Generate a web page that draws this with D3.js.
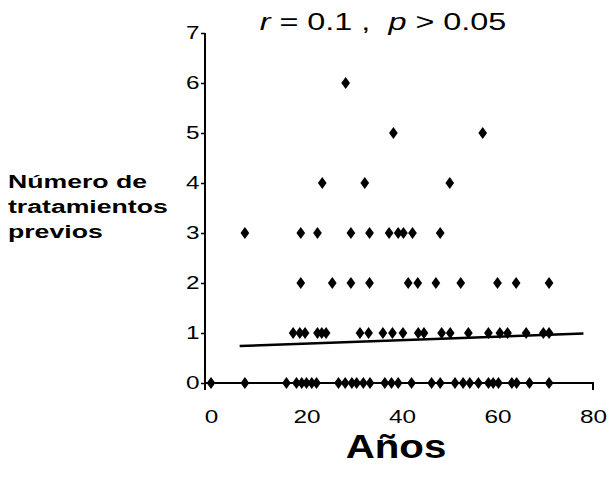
<!DOCTYPE html>
<html>
<head>
<meta charset="utf-8">
<script src="https://cdn.jsdelivr.net/npm/d3@7"></script>
<style>
  body { margin: 0; background: #fff; }
  text { font-family: "Liberation Sans", Arial, sans-serif; fill: #000; }
</style>
</head>
<body>
<svg id="chart" width="611" height="479"></svg>
<script>
// ages (years), one list per number of previous treatments
const ages0 = [0, 7.1, 15.8, 17.9, 19.0, 20.0, 21.1, 22.1, 26.7, 28.1, 29.5, 30.5, 31.9, 33.3,
  36.4, 37.8, 39.2, 42.0, 46.2, 48.0, 51.1, 52.8, 54.2, 56.0, 58.1, 59.1, 60.2, 63.0, 64.0, 66.7, 70.8];
const ages1 = [17.2, 18.6, 19.7, 22.3, 23.2, 24.1, 31.2, 33.0, 36.0, 38.0, 40.2, 43.4, 44.6,
  48.3, 50.1, 53.9, 58.1, 60.5, 62.1, 66.0, 69.6, 70.8];
const ages2 = [18.8, 25.4, 29.3, 33.2, 41.3, 43.3, 47.1, 52.3, 60.0, 63.9, 70.8];
const ages3 = [7.1, 18.8, 22.3, 29.3, 33.2, 37.3, 39.2, 40.3, 42.2, 48.0];
const ages4 = [23.3, 32.2, 50.0];
const ages5 = [38.2, 56.9];
const ages6 = [28.2];
const agesByCount = [ages0, ages1, ages2, ages3, ages4, ages5, ages6];

// regression line end points
const fitX = [6, 78];
const fitY = [0.74, 0.99];

const xTicks = [0, 20, 40, 60, 80];
const yTicks = [0, 1, 2, 3, 4, 5, 6, 7];

const titleParts = [["r", true], [" = 0.1 ,  ", false], ["p", true], [" > 0.05", false]];
const yLabelLines = ["Número de", "tratamientos", "previos"];
const xLabel = "Años";

// the scanned figure is stretched sideways
const stretch = 1.35;

const svg = d3.select("#chart");

const x = d3.scaleLinear().domain([0, 80]).range([211, 593]);
const y = d3.scaleLinear().domain([0, 7]).range([383, 33]);
const axisX = 205;

var data = [];
agesByCount.forEach(function (ages, count) {
  ages.forEach(function (a) {
    data.push({ age: a, count: count });
  });
});

// x axis
const gx = svg.append("g")
  .attr("transform", "translate(0," + y(0) + ")")
  .call(d3.axisBottom(x).tickValues(xTicks).tickFormat(d3.format("d"))
    .tickSizeInner(0).tickSizeOuter(7).tickPadding(27));
gx.select(".domain")
  .attr("d", "M" + axisX + ",0H" + x(80) + "V7")
  .attr("stroke-width", 2);
gx.selectAll(".tick text")
  .attr("font-size", 18)
  .attr("transform", "scale(" + stretch + ",1)");

// y axis
const gy = svg.append("g")
  .attr("transform", "translate(" + axisX + ",0)")
  .call(d3.axisLeft(y).tickValues(yTicks).tickFormat(d3.format("d"))
    .tickSize(4).tickSizeOuter(0).tickPadding(0));
gy.select(".domain")
  .attr("d", "M0," + y(7) + "V" + (y(0) + 7))
  .attr("stroke-width", 2);
gy.selectAll(".tick line").attr("stroke-width", 1.5);
gy.selectAll(".tick text")
  .attr("font-size", 18)
  .attr("transform", "scale(" + stretch + ",1)");

// fit line
const line = d3.line()
  .x(function (d) { return x(d[0]); })
  .y(function (d) { return y(d[1]); });
svg.append("path")
  .datum(d3.zip(fitX, fitY))
  .attr("d", line)
  .attr("fill", "none")
  .attr("stroke", "#000")
  .attr("stroke-width", 2.5);

// diamonds
const diamond = d3.symbol().type(d3.symbolDiamond).size(42);
svg.selectAll(".dot")
  .data(data)
  .enter()
  .append("path")
  .attr("class", "dot")
  .attr("d", diamond)
  .attr("transform", function (d) {
    return "translate(" + x(d.age) + "," + y(d.count) + ") scale(1.25,1)";
  })
  .attr("fill", "#000");

// title
const title = svg.append("text")
  .attr("transform", "translate(383,30) scale(" + stretch + ",1)")
  .attr("text-anchor", "middle")
  .attr("font-size", 24)
  .style("white-space", "pre");
titleParts.forEach(function (p) {
  title.append("tspan")
    .attr("font-style", p[1] ? "italic" : "normal")
    .text(p[0]);
});

// y label
yLabelLines.forEach(function (t, i) {
  svg.append("text")
    .attr("transform", "translate(8," + (188 + i * 25) + ") scale(1.48,1)")
    .attr("font-size", 18)
    .attr("font-weight", "bold")
    .text(t);
});

// x label
svg.append("text")
  .attr("transform", "translate(396,458) scale(1.22,1)")
  .attr("text-anchor", "middle")
  .attr("font-size", 33)
  .attr("font-weight", "bold")
  .text(xLabel);
</script>
</body>
</html>
